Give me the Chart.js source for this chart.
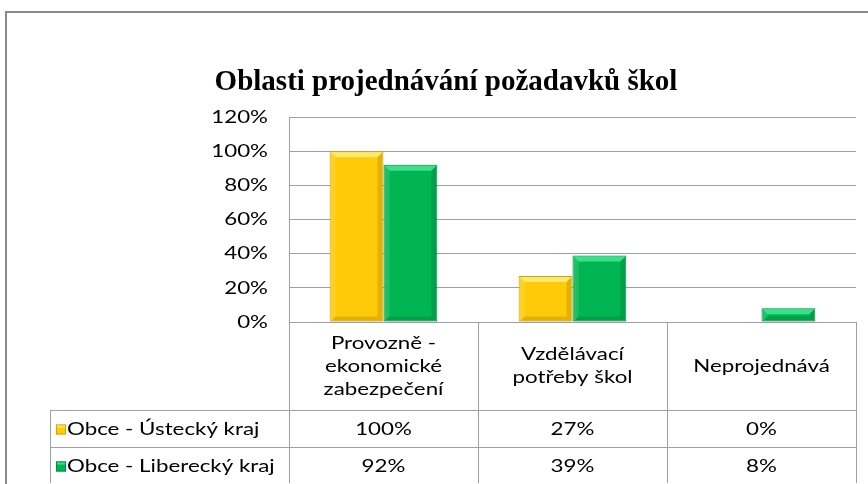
<!DOCTYPE html>
<html>
<head>
<meta charset="utf-8">
<script src="https://cdn.jsdelivr.net/npm/chart.js@4.4.1/dist/chart.umd.min.js"></script>
<style>
  body { margin: 0; background: #fff; }
  canvas { display: block; }
</style>
</head>
<body>
<canvas id="myChart" width="868" height="484"></canvas>
<script>
'use strict';

let chartTitle = 'Oblasti projednávání požadavků škol';
let categories = [['Provozně -', 'ekonomické', 'zabezpečení'], ['Vzdělávací', 'potřeby škol'], ['Neprojednává']];
let seriesNames = ['Obce - Ústecký kraj', 'Obce - Liberecký kraj'];
let ustecky = [1.00, 0.27, 0.00];
let liberecky = [0.92, 0.39, 0.08];
let tickValues = [0, 0.2, 0.4, 0.6, 0.8, 1.0, 1.2];

let fillColors = ['#FFCA08', '#00B552'];
let edgeColors = ['#D9A300', '#008A3E'];
let lightColors = ['#FFE870', '#3BE08A'];
let lineGray = '#A0A0A0';
let textFont = '18px Lato';
let stretch = 1.24; // the original text is a wide Calibri look

function pct(v) {
  return Math.round(v * 100) + '%';
}

// draws text a little wider than the font gives
function wideText(ctx, txt, x, y, align) {
  let w = ctx.measureText(txt).width * stretch;
  let left = x;
  if (align === 'center') left = x - w / 2;
  if (align === 'right') left = x - w;
  ctx.save();
  ctx.translate(left, y);
  ctx.scale(stretch, 1);
  ctx.textAlign = 'left';
  ctx.fillText(txt, 0, 0);
  ctx.restore();
}

// outer frame + title
const framePlugin = {
  id: 'frame',
  beforeDraw(chart) {
    let ctx = chart.ctx;
    ctx.save();
    ctx.fillStyle = '#fff';
    ctx.fillRect(0, 0, chart.width, chart.height);
    ctx.strokeStyle = '#888';
    ctx.lineWidth = 2;
    ctx.strokeRect(6, 12, chart.width + 10, chart.height + 10);
    ctx.fillStyle = '#000';
    ctx.font = 'bold 29px "Liberation Serif"';
    ctx.textAlign = 'center';
    ctx.textBaseline = 'alphabetic';
    ctx.fillText(chartTitle, 446, 90);
    ctx.restore();
  }
};

// y tick labels, drawn from the y scale
const yLabelPlugin = {
  id: 'yLabels',
  afterDraw(chart) {
    let ctx = chart.ctx;
    let yScale = chart.scales.y;
    ctx.save();
    ctx.fillStyle = '#000';
    ctx.font = textFont;
    ctx.textBaseline = 'middle';
    yScale.ticks.forEach((t) => {
      wideText(ctx, pct(t.value), chart.chartArea.left - 21, yScale.getPixelForValue(t.value), 'right');
    });
    ctx.restore();
  }
};

// bevel highlight on each bar
const bevelPlugin = {
  id: 'bevel',
  afterDatasetsDraw(chart) {
    let ctx = chart.ctx;
    ctx.save();
    chart.data.datasets.forEach((ds, d) => {
      chart.getDatasetMeta(d).data.forEach((bar) => {
        let h = bar.base - bar.y;
        if (h < 2) return;
        let l = bar.x - bar.width / 2 + 1;
        let r = bar.x + bar.width / 2 - 1;
        let t = bar.y + 1;
        let b = bar.base;
        let s = Math.min(5, h / 2);
        ctx.fillStyle = lightColors[d];
        ctx.beginPath();
        ctx.moveTo(l, t);
        ctx.lineTo(r, t);
        ctx.lineTo(r - s, t + s);
        ctx.lineTo(l + s, t + s);
        ctx.closePath();
        ctx.fill();
        ctx.fillStyle = 'rgba(0,0,0,0.12)';
        ctx.beginPath();
        ctx.moveTo(r, t);
        ctx.lineTo(r, b);
        ctx.lineTo(r - s, b - s);
        ctx.lineTo(r - s, t + s);
        ctx.closePath();
        ctx.fill();
        ctx.beginPath();
        ctx.moveTo(l, b);
        ctx.lineTo(r, b);
        ctx.lineTo(r - s, b - s);
        ctx.lineTo(l + s, b - s);
        ctx.closePath();
        ctx.fill();
        ctx.fillStyle = 'rgba(255,255,255,0.12)';
        ctx.beginPath();
        ctx.moveTo(l, t);
        ctx.lineTo(l + s, t + s);
        ctx.lineTo(l + s, b - s);
        ctx.lineTo(l, b);
        ctx.closePath();
        ctx.fill();
      });
    });
    ctx.restore();
  }
};

// data table under the plot
const tablePlugin = {
  id: 'dataTable',
  afterDraw(chart) {
    let ctx = chart.ctx;
    let area = chart.chartArea;
    let xScale = chart.scales.x;
    let n = categories.length;
    let colW = (area.right - area.left) / n;
    let headerBottom = area.bottom + 88;
    let rowH = 37;
    let tableLeft = 50;
    let tableBottom = headerBottom + rowH * seriesNames.length - 1;

    ctx.save();
    ctx.strokeStyle = lineGray;
    ctx.lineWidth = 1;
    ctx.beginPath();
    for (let i = 0; i <= n; i++) {
      let x = Math.round(area.left + i * colW) + 0.5;
      ctx.moveTo(x, area.bottom);
      ctx.lineTo(x, tableBottom);
    }
    for (let r = 0; r <= seriesNames.length; r++) {
      let y = Math.round(headerBottom + r * rowH) + 0.5;
      ctx.moveTo(tableLeft, y);
      ctx.lineTo(area.right, y);
    }
    ctx.moveTo(tableLeft + 0.5, headerBottom);
    ctx.lineTo(tableLeft + 0.5, tableBottom);
    ctx.stroke();

    ctx.fillStyle = '#000';
    ctx.font = textFont;
    ctx.textBaseline = 'middle';
    let lineH = 23;
    categories.forEach((lines, i) => {
      let cx = xScale.getPixelForValue(i);
      let cy = (area.bottom + headerBottom) / 2;
      let y0 = cy - (lines.length - 1) * lineH / 2;
      lines.forEach((txt, k) => wideText(ctx, txt, cx, y0 + k * lineH, 'center'));
    });

    let rows = [ustecky, liberecky];
    rows.forEach((vals, r) => {
      let cy = headerBottom + r * rowH + rowH / 2 + 1;
      ctx.fillStyle = '#000';
      vals.forEach((v, i) => wideText(ctx, pct(v), xScale.getPixelForValue(i), cy, 'center'));
      ctx.fillStyle = fillColors[r];
      ctx.fillRect(tableLeft + 6, cy - 5, 10, 10);
      ctx.strokeStyle = edgeColors[r];
      ctx.strokeRect(tableLeft + 6.5, cy - 4.5, 9, 9);
      ctx.fillStyle = lightColors[r];
      ctx.fillRect(tableLeft + 7, cy - 4, 8, 2);
      ctx.fillStyle = '#000';
      wideText(ctx, seriesNames[r], tableLeft + 17, cy, 'left');
    });
    ctx.restore();
  }
};

const config = {
  type: 'bar',
  data: {
    labels: categories,
    datasets: [
      {
        label: seriesNames[0],
        data: ustecky,
        backgroundColor: fillColors[0],
        borderColor: edgeColors[0],
        borderWidth: 1,
        borderSkipped: false,
      },
      {
        label: seriesNames[1],
        data: liberecky,
        backgroundColor: fillColors[1],
        borderColor: edgeColors[1],
        borderWidth: 1,
        borderSkipped: false,
      },
    ],
  },
  options: {
    responsive: false,
    animation: false,
    devicePixelRatio: 1,
    categoryPercentage: 0.57,
    barPercentage: 1.0,
    layout: {
      padding: { top: 117, right: 12, bottom: 162, left: 0 },
    },
    plugins: {
      legend: { display: false },
      tooltip: { enabled: false },
    },
    scales: {
      x: {
        display: false,
      },
      y: {
        min: 0,
        max: 1.2,
        afterFit(scale) { scale.width = 289; },
        afterBuildTicks(scale) { scale.ticks = tickValues.map(v => ({ value: v })); },
        ticks: {
          display: false,
        },
        grid: { color: lineGray, drawTicks: false },
        border: { display: true, color: lineGray },
      },
    },
  },
  plugins: [framePlugin, yLabelPlugin, bevelPlugin, tablePlugin],
};

let chartCanvas = document.getElementById('myChart').getContext('2d');
const myChart = new Chart(chartCanvas, config);
</script>
</body>
</html>
